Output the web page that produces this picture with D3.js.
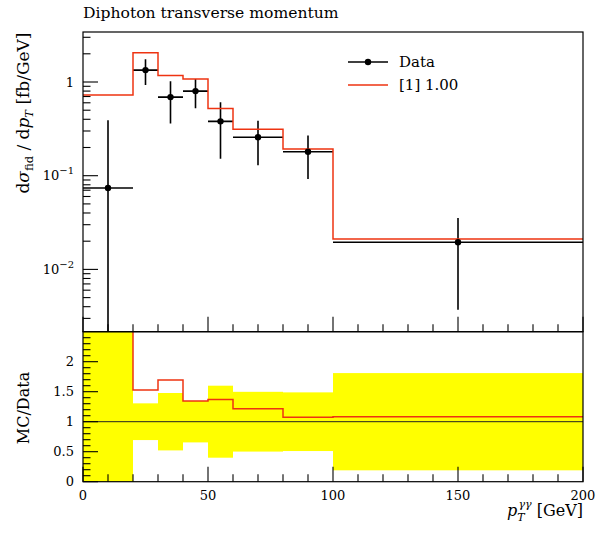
<!DOCTYPE html>
<html><head><meta charset="utf-8">
<script src="https://cdn.jsdelivr.net/npm/d3@7"></script>
<style>
body{margin:0;background:#fff;}
svg text{font-family:"DejaVu Serif","Liberation Serif",serif;fill:#000;}
</style></head>
<body><svg id="c" width="597" height="533"></svg>
<script>
// ---- data ----
const binEdges = [0, 20, 30, 40, 50, 60, 80, 100, 200];
const dataVals = [0.074, 1.34, 0.69, 0.80, 0.38, 0.257, 0.18, 0.0195];
const dataErr  = [0.316, 0.41, 0.33, 0.276, 0.228, 0.128, 0.088, 0.0158];
const mcVals   = [0.727, 2.05, 1.17, 1.076, 0.52, 0.313, 0.193, 0.0211];
const xTicks = [0, 50, 100, 150, 200];
const ratioTicks = [0, 0.5, 1, 1.5, 2];
const ratioTickLabels = ["0", "0.5", "1", "1.5", "2"];
const logTicks = [1, 0.1, 0.01];

const svg = d3.select("#c");
const L = 83, R = 583, T = 32, M = 331.7, B = 481.7;
const x = d3.scaleLinear().domain([0, 200]).range([L, R]);
const y = d3.scaleLog().domain([0.002163, 3.417]).range([M, T]);
const yr = d3.scaleLinear().domain([0, 2.5]).range([B, M]);
const red = "#ee3311";

const defs = svg.append("defs");
defs.append("clipPath").attr("id", "clipTop").append("rect").attr("x", L).attr("y", T).attr("width", R - L).attr("height", M - T);
defs.append("clipPath").attr("id", "clipBot").append("rect").attr("x", L).attr("y", M).attr("width", R - L).attr("height", B - M);

const bins = dataVals.map((v, i) => ({lo: binEdges[i], hi: binEdges[i + 1], v, e: dataErr[i], mc: mcVals[i]}));

// ---- top panel ----
const gt = svg.append("g").attr("clip-path", "url(#clipTop)");
const stepLine = d3.line().curve(d3.curveStepAfter);
const mcPts = bins.map(b => [x(b.lo), y(b.mc)]).concat([[x(200), y(bins[bins.length - 1].mc)]]);
gt.selectAll("line.dh").data(bins).join("line")
  .attr("x1", d => x(d.lo)).attr("x2", d => x(d.hi))
  .attr("y1", d => y(d.v)).attr("y2", d => y(d.v))
  .attr("stroke", "#000").attr("stroke-width", 1.6);
gt.selectAll("line.dv").data(bins).join("line")
  .attr("x1", d => x((d.lo + d.hi) / 2)).attr("x2", d => x((d.lo + d.hi) / 2))
  .attr("y1", d => y(d.v + d.e)).attr("y2", d => (d.v - d.e) > 0 ? y(d.v - d.e) : M + 5)
  .attr("stroke", "#000").attr("stroke-width", 1.6);
gt.append("path").attr("d", stepLine(mcPts)).attr("fill", "none").attr("stroke", red).attr("stroke-width", 1.5);
gt.selectAll("circle").data(bins).join("circle")
  .attr("cx", d => x((d.lo + d.hi) / 2)).attr("cy", d => y(d.v)).attr("r", 3.2).attr("fill", "#000");

// ---- ratio panel ----
const gb = svg.append("g").attr("clip-path", "url(#clipBot)");
gb.selectAll("rect").data(bins).join("rect")
  .attr("x", d => x(d.lo)).attr("width", d => x(d.hi) - x(d.lo))
  .attr("y", d => yr(Math.min(3, 1 + d.e / d.v)))
  .attr("height", d => yr(Math.max(-1, 1 - d.e / d.v)) - yr(Math.min(3, 1 + d.e / d.v)))
  .attr("fill", "#ffff00");
gb.append("line").attr("x1", L).attr("x2", R).attr("y1", yr(1)).attr("y2", yr(1)).attr("stroke", "#222").attr("stroke-width", 1);
const rPts = bins.map(b => [x(b.lo), yr(Math.min(3, b.mc / b.v))]).concat([[x(200), yr(bins[bins.length - 1].mc / bins[bins.length - 1].v)]]);
gb.append("path").attr("d", stepLine(rPts)).attr("fill", "none").attr("stroke", red).attr("stroke-width", 1.5);

// ---- frames ----
svg.append("rect").attr("x", L).attr("y", T).attr("width", R - L).attr("height", M - T).attr("fill", "none").attr("stroke", "#000").attr("stroke-width", 1.2);
svg.append("rect").attr("x", L).attr("y", M).attr("width", R - L).attr("height", B - M).attr("fill", "none").attr("stroke", "#000").attr("stroke-width", 1.2);

// ---- ticks ----
const tk = svg.append("g").attr("stroke", "#000").attr("stroke-width", 1.1);
const xMinor = d3.range(0, 201, 10);
[M, B].forEach(base => {
  tk.selectAll(null).data(xMinor).join("line")
    .attr("x1", d => x(d)).attr("x2", d => x(d))
    .attr("y1", base).attr("y2", d => base - (xTicks.includes(d) ? 15 : 7.5));
});
const logMinor = [];
[0.001, 0.01, 0.1, 1].forEach(dec => { for (let k = 1; k <= 9; k++) { const v = dec * k; if (v >= 0.002163 && v <= 3.417) logMinor.push({v, major: k === 1}); } });
tk.selectAll(null).data(logMinor).join("line")
  .attr("x1", L).attr("x2", d => L + (d.major ? 15 : 7.5))
  .attr("y1", d => y(d.v)).attr("y2", d => y(d.v));
const rMinor = d3.range(0, 25).map(i => i / 10);
tk.selectAll(null).data(rMinor).join("line")
  .attr("x1", L).attr("x2", d => L + (Math.abs(d * 2 - Math.round(d * 2)) < 1e-6 ? 15 : 7.5))
  .attr("y1", d => yr(d)).attr("y2", d => yr(d));

// ---- tick labels ----
const fs = 13;
svg.selectAll("text.xt").data(xTicks).join("text").attr("class", "xt")
  .attr("x", d => x(d)).attr("y", 500).attr("text-anchor", "middle").attr("font-size", fs).text(d => d);
svg.selectAll("text.rt").data(ratioTicks).join("text").attr("class", "rt")
  .attr("x", 74).attr("y", d => yr(d) + 4.5).attr("text-anchor", "end").attr("font-size", fs)
  .text((d, i) => ratioTickLabels[i]);
logTicks.forEach(v => {
  const t = svg.append("text").attr("x", 74).attr("y", y(v) + 4.5).attr("text-anchor", "end").attr("font-size", fs);
  const e = Math.round(Math.log10(v));
  if (e === 0) t.text("1");
  else { t.append("tspan").text("10"); t.append("tspan").attr("dy", -6).attr("font-size", 10).text("\u2212" + (-e)); }
});

// ---- titles ----
svg.append("text").attr("x", 83).attr("y", 18).attr("font-size", 15.6).text("Diphoton transverse momentum");
const yl = svg.append("text").attr("transform", "translate(29,113) rotate(-90)").attr("text-anchor", "middle").attr("font-size", 17);
yl.append("tspan").text("d");
yl.append("tspan").attr("font-style", "italic").text("\u03c3");
yl.append("tspan").attr("font-size", 11.5).attr("dy", 4).text("fid");
yl.append("tspan").attr("dy", -4).text(" / d");
yl.append("tspan").attr("font-style", "italic").text("p");
yl.append("tspan").attr("font-size", 11.5).attr("font-style", "italic").attr("dy", 4).text("T");
yl.append("tspan").attr("dy", -4).text(" [fb/GeV]");
svg.append("text").attr("transform", "translate(29,408) rotate(-90)").attr("text-anchor", "middle").attr("font-size", 16).text("MC/Data");
const xl = svg.append("text").attr("x", 583).attr("y", 516).attr("text-anchor", "end").attr("font-size", 16);
xl.append("tspan").attr("font-style", "italic").text("p");
xl.append("tspan").attr("font-size", 11).attr("font-style", "italic").attr("dy", 5).text("T");
xl.append("tspan").attr("font-size", 11).attr("font-style", "italic").attr("dx", -6).attr("dy", -13).text("\u03b3\u03b3");
xl.append("tspan").attr("dy", 8).text(" [GeV]");

// ---- legend ----
const lg = svg.append("g");
lg.append("line").attr("x1", 348).attr("x2", 388).attr("y1", 62).attr("y2", 62).attr("stroke", "#000").attr("stroke-width", 1.6);
lg.append("circle").attr("cx", 368).attr("cy", 62).attr("r", 3.2).attr("fill", "#000");
lg.append("text").attr("x", 399).attr("y", 67).attr("font-size", 15).text("Data");
lg.append("line").attr("x1", 348).attr("x2", 388).attr("y1", 85).attr("y2", 85).attr("stroke", red).attr("stroke-width", 1.5);
lg.append("text").attr("x", 399).attr("y", 90).attr("font-size", 15).text("[1] 1.00");
</script></body></html>
